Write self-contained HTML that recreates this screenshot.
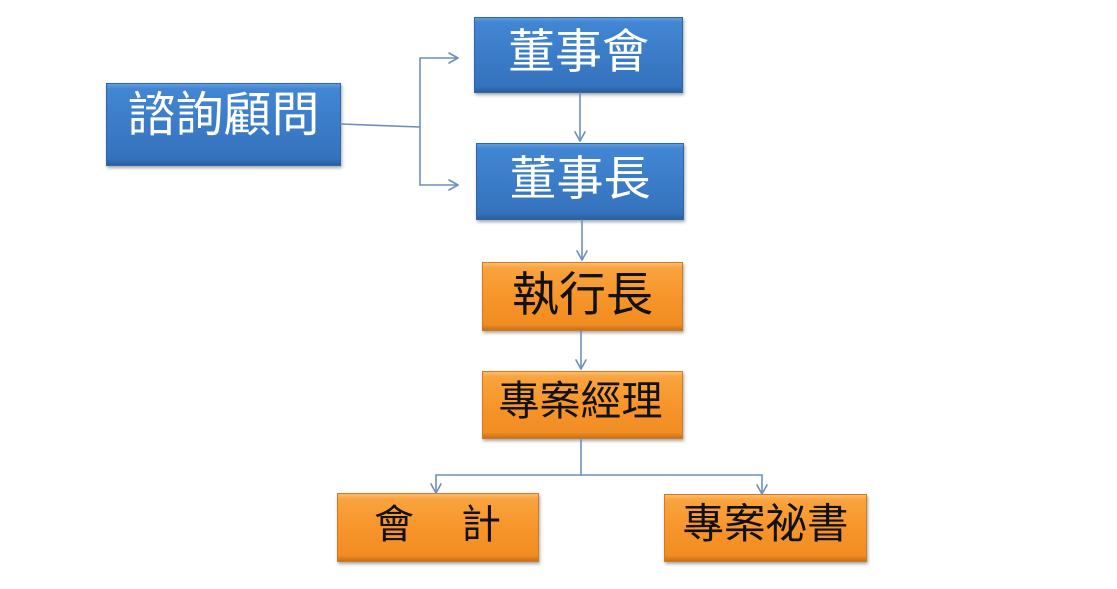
<!DOCTYPE html>
<html>
<head>
<meta charset="utf-8">
<style>
  html, body { margin:0; padding:0; }
  body { width:1117px; height:589px; background:#ffffff; position:relative; overflow:hidden;
         font-family: "Liberation Sans", "Noto Sans CJK TC", "Noto Sans CJK SC", sans-serif; }
  .box { position:absolute; box-sizing:border-box; box-shadow: 1px 2px 3px rgba(0,0,0,0.35); }
  .blue { background: linear-gradient(to bottom, #5f9de2 0%, #4286d3 6%, #3b7cc8 50%, #3572bd 92%, #2b5f9e 100%);
          border:1px solid #2f66a8; }
  .orange { background: linear-gradient(to bottom, #fbbd6c 0%, #f9a43f 7%, #f7952a 50%, #f18d22 92%, #c8701a 100%);
            border:1px solid #d07a22; }
  .t { position:absolute; white-space:nowrap; line-height:1; text-align:center; }
  .w { color:#ffffff; }
  .k { color:#111111; }
  svg { position:absolute; left:0; top:0; }
</style>
</head>
<body>
  <div class="box blue" style="left:106px; top:83px; width:235px; height:83px;"></div>
  <div class="box blue" style="left:474px; top:17px; width:209px; height:76px;"></div>
  <div class="box blue" style="left:476px; top:143px; width:208px; height:77px;"></div>
  <div class="box orange" style="left:482px; top:262px; width:201px; height:69px;"></div>
  <div class="box orange" style="left:482px; top:371px; width:201px; height:68px;"></div>
  <div class="box orange" style="left:337px; top:493px; width:202px; height:69px;"></div>
  <div class="box orange" style="left:664px; top:494px; width:203px; height:68px;"></div>

  <svg width="1117" height="589" viewBox="0 0 1117 589">
    <g fill="none" stroke="#6d8fbd" stroke-width="1.6" stroke-linecap="round" stroke-linejoin="round">
      <path d="M341,124 L420,127"/>
      <path d="M420,58 V185"/>
      <path d="M420,58 H458"/>
      <path d="M420,185 H458"/>
      <path d="M449,53 L458,58 L449,63"/>
      <path d="M449,180 L458,185 L449,190"/>
      <path d="M580,93 V141"/>
      <path d="M575,132 L580,141 L585,132"/>
      <path d="M582,220 V260"/>
      <path d="M577,251 L582,260 L587,251"/>
      <path d="M581,331 V369"/>
      <path d="M576,360 L581,369 L586,360"/>
      <path d="M581,439 V475"/>
      <path d="M436,475 H762"/>
      <path d="M436,475 V493"/>
      <path d="M431,484 L436,493 L441,484"/>
      <path d="M762,475 V494"/>
      <path d="M757,485 L762,494 L767,485"/>
    </g>
  </svg>

  <div class="t w" style="left:106px; width:235px; top:92px; font-size:48px;">諮詢顧問</div>
  <div class="t w" style="left:474px; width:209px; top:28px; font-size:47px;">董事會</div>
  <div class="t w" style="left:476px; width:208px; top:155px; font-size:47px;">董事長</div>
  <div class="t k" style="left:482px; width:201px; top:271px; font-size:47px;">執行長</div>
  <div class="t k" style="left:482px; width:197px; top:381px; font-size:41px;">專案經理</div>
  <div class="t k" style="left:374px; top:505px; font-size:40px;">會</div>
  <div class="t k" style="left:461px; top:505px; font-size:40px;">計</div>
  <div class="t k" style="left:664px; width:203px; top:503px; font-size:41.5px;">專案祕書</div>
</body>
</html>
